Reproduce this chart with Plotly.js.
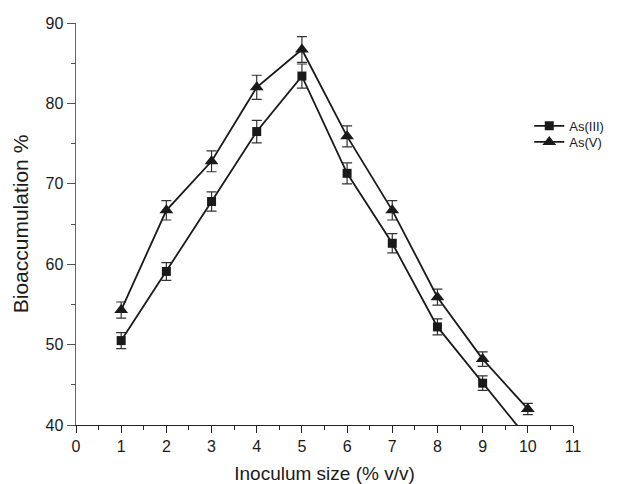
<!DOCTYPE html>
<html><head><meta charset="utf-8">
<script src="https://cdn.plot.ly/plotly-3.0.1.min.js"></script>
<style>body{margin:0;background:#fff}#c{width:630px;height:484px}</style>
</head><body><div id="c"></div>
<script>
const inoculum = [1,2,3,4,5,6,7,8,9,10];
const asIII = [50.5,59.1,67.8,76.5,83.4,71.3,62.6,52.2,45.2,38.3];
const asIIIErr = [1.0,1.1,1.2,1.4,1.5,1.3,1.2,1.0,0.9,0.9];
const asV = [54.3,66.7,72.8,82.0,86.7,75.9,66.7,55.9,48.2,42.0];
const asVErr = [1.0,1.2,1.3,1.5,1.6,1.3,1.2,1.0,0.9,0.7];
const xTicks = [0,1,2,3,4,5,6,7,8,9,10,11];
const yTicks = [40,50,60,70,80,90];

const fam = 'Liberation Sans, Arial, sans-serif';
const font = {family:fam, color:'#1a1a1a'};
function trace(name, y, err, sym, leg){
  return {x:inoculum, y:y, name:name, type:'scatter', mode:'lines+markers', legend:leg,
    line:{color:'#1a1a1a', width:1.8},
    marker:{symbol:sym, size:sym==='square'?9:12, color:'#1a1a1a'},
    error_y:{type:'data', array:err, visible:true, color:'#333', thickness:1.2, width:5},
    cliponaxis:true};
}
const legStyle = {xanchor:'left', yanchor:'middle', bgcolor:'rgba(0,0,0,0)',
  font:{size:13, family:fam, color:'#1a1a1a'}, itemwidth:30, borderwidth:0};
Plotly.newPlot('c', [
  trace('As(III)', asIII, asIIIErr, 'square', 'legend'),
  trace('As(V)', asV, asVErr, 'triangle-up', 'legend2')
], {
  width:630, height:484,
  margin:{l:76, r:57, t:23, b:59},
  paper_bgcolor:'#fff', plot_bgcolor:'#fff',
  font:font,
  showlegend:true,
  legend:Object.assign({x:0.912, y:0.744}, legStyle),
  legend2:Object.assign({x:0.912, y:0.704}, legStyle),
  xaxis:{range:[0,11], tickvals:xTicks, ticktext:xTicks.map(String), ticks:'outside', ticklen:7, tickcolor:'#222',
    minor:{dtick:0.5, tick0:0, ticks:'outside', ticklen:4, tickcolor:'#222'},
    showline:true, linecolor:'#222', linewidth:1.2, showgrid:false, zeroline:false,
    tickfont:{size:16}, title:{text:'Inoculum size (% v/v)', font:{size:19}, standoff:12}},
  yaxis:{range:[40,90], tickvals:yTicks, ticktext:yTicks.map(String), ticks:'outside', ticklen:8, tickcolor:'#555',
    minor:{dtick:5, tick0:40, ticks:'outside', ticklen:4, tickcolor:'#555'},
    showline:true, linecolor:'#666', linewidth:1.5, showgrid:false, zeroline:false,
    tickfont:{size:16}, title:{text:'Bioaccumulation %', font:{size:21}, standoff:11}}
}, {displayModeBar:false, staticPlot:true});
</script></body></html>
